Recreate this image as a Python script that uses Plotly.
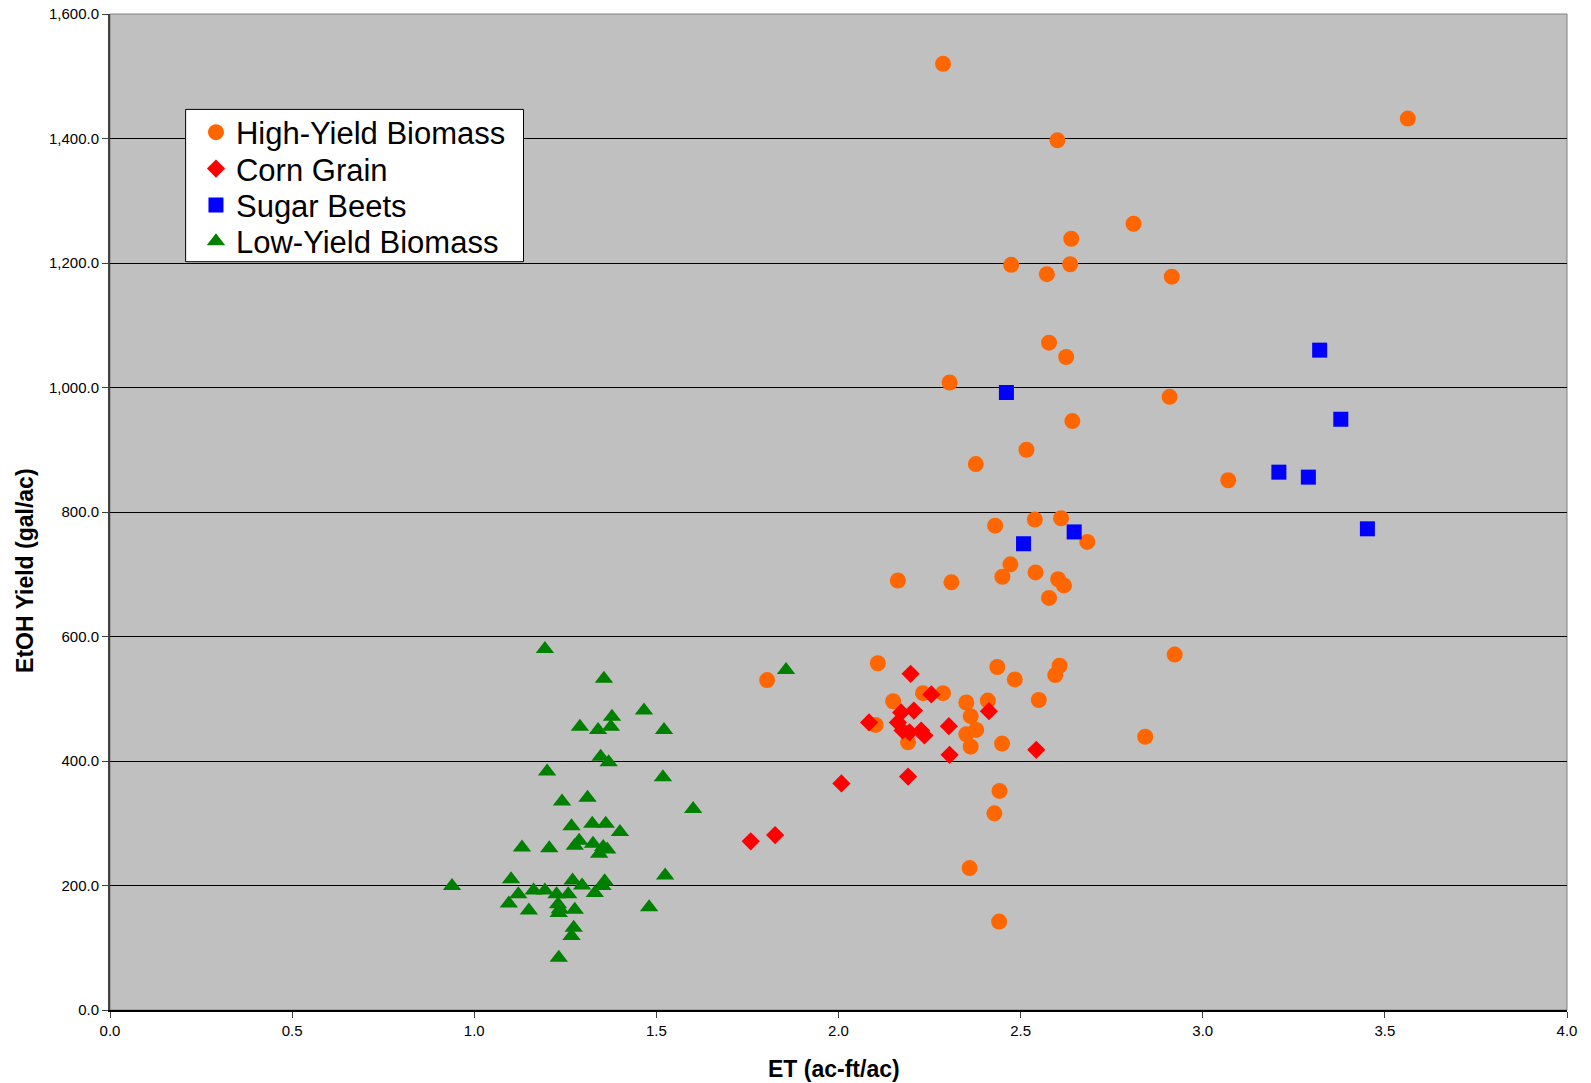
import plotly.graph_objects as go

# High-Yield Biomass (orange circles)
hy_x = [2.287, 2.601, 3.563, 2.810, 2.639, 2.474, 2.572, 2.636, 2.915, 2.578,
        2.625, 2.305, 2.909, 2.642, 2.516, 2.377, 3.070, 2.430, 2.539, 2.611,
        2.683, 2.472, 2.450, 2.541, 2.603, 2.619, 2.578, 2.163, 2.310, 2.923,
        2.108, 1.804, 2.436, 2.607, 2.595, 2.484, 2.150, 2.232, 2.287, 2.351,
        2.410, 2.550, 2.363, 2.102, 2.351, 2.378, 2.191, 2.363, 2.449, 2.842,
        2.442, 2.428, 2.360, 2.441]
hy_y = [1520, 1397, 1432, 1263, 1239, 1197, 1182, 1198, 1178, 1072,
        1049, 1008, 985, 946, 900, 877, 851, 778, 788, 790,
        752, 716, 696, 703, 692, 682, 662, 690, 687, 571,
        557, 530, 551, 553, 538, 531, 496, 509, 509, 494,
        497, 498, 472, 458, 443, 450, 430, 423, 428, 439,
        352, 316, 228, 142]

# Corn Grain (red diamonds)
cg_x = [1.759, 1.826, 2.008, 2.084, 2.191, 2.198, 2.255, 2.207, 2.172, 2.163,
        2.176, 2.195, 2.227, 2.236, 2.303, 2.413, 2.305, 2.543]
cg_y = [271, 281, 364, 462, 375, 540, 507, 481, 478, 462,
        449, 446, 449, 441, 456, 480, 410, 418]

# Sugar Beets (blue squares)
sb_x = [2.461, 3.321, 3.379, 3.209, 3.290, 3.452, 2.647, 2.508]
sb_y = [992, 1060, 949, 864, 856, 773, 768, 749]

# Low-Yield Biomass (green triangles)
ly_x = [1.194, 1.356, 1.466, 1.378, 1.375, 1.290, 1.340, 1.521, 1.347, 1.369,
        1.200, 1.518, 1.601, 1.241, 1.311, 1.267, 1.324, 1.361, 1.400, 1.288,
        1.276, 1.326, 1.354, 1.365, 1.343, 1.131, 1.206, 0.939, 1.101, 1.121,
        1.095, 1.150, 1.163, 1.194, 1.226, 1.258, 1.270, 1.296, 1.331, 1.358,
        1.352, 1.230, 1.235, 1.232, 1.276, 1.273, 1.267, 1.232, 1.480, 1.524,
        1.856]
ly_y = [580, 532, 481, 471, 455, 455, 450, 450, 407, 398,
        383, 374, 323, 335, 341, 295, 299, 299, 286, 272,
        264, 267, 262, 258, 251, 261, 260, 199, 210, 186,
        171, 160, 192, 192, 186, 186, 208, 200, 188, 207,
        199, 170, 162, 156, 161, 132, 119, 84, 165, 216,
        546]

x_ticks = [0.0, 0.5, 1.0, 1.5, 2.0, 2.5, 3.0, 3.5, 4.0]
y_ticks = [0, 200, 400, 600, 800, 1000, 1200, 1400, 1600]

series_names = ["High-Yield Biomass", "Corn Grain", "Sugar Beets", "Low-Yield Biomass"]
legend_rows_y = [0.881, 0.8445, 0.808, 0.7715]

font_family = "Liberation Sans, Arial, sans-serif"

fig = go.Figure()
fig.add_trace(go.Scatter(x=hy_x, y=hy_y, mode="markers", name=series_names[0], legend="legend",
                         marker=dict(symbol="circle", size=16, color="#FF6600", line=dict(width=0))))
fig.add_trace(go.Scatter(x=cg_x, y=cg_y, mode="markers", name=series_names[1], legend="legend2",
                         marker=dict(symbol="diamond", size=14, color="#FF0000", line=dict(width=0))))
fig.add_trace(go.Scatter(x=sb_x, y=sb_y, mode="markers", name=series_names[2], legend="legend3",
                         marker=dict(symbol="square", size=15, color="#0000FF", line=dict(width=0))))
fig.add_trace(go.Scatter(x=ly_x, y=ly_y, mode="markers", name=series_names[3], legend="legend4",
                         marker=dict(symbol="triangle-up", size=16, color="#008000", line=dict(width=0))))

def leg(yc):
    return dict(x=0.059, y=yc, xanchor="left", yanchor="middle",
                bgcolor="rgba(0,0,0,0)", borderwidth=0,
                font=dict(size=31, family=font_family, color="black"),
                itemsizing="trace")

fig.update_layout(
    width=1591, height=1083,
    paper_bgcolor="white",
    plot_bgcolor="#C0C0C0",
    margin=dict(l=110, r=23.5, t=14.2, b=73.4),
    font=dict(family=font_family, color="black"),
    showlegend=True,
    legend=leg(legend_rows_y[0]),
    legend2=leg(legend_rows_y[1]),
    legend3=leg(legend_rows_y[2]),
    legend4=leg(legend_rows_y[3]),
    shapes=[
        dict(type="rect", xref="paper", yref="paper", x0=0, y0=0, x1=1, y1=1,
             line=dict(color="#808080", width=1), layer="below"),
        dict(type="rect", xref="paper", yref="paper", x0=0.0519, y0=0.7513, x1=0.2838, y1=0.9042,
             line=dict(color="black", width=1), fillcolor="white", layer="above"),
    ],
    annotations=[
        dict(text="<b>EtOH Yield (gal/ac)</b>", xref="paper", yref="paper", x=-0.058, y=0.4413,
             xanchor="center", yanchor="middle", textangle=-90, showarrow=False,
             font=dict(size=23, family=font_family, color="black")),
        dict(text="<b>ET (ac-ft/ac)</b>", xref="paper", yref="paper", x=0.4967, y=-0.0593,
             xanchor="center", yanchor="middle", showarrow=False,
             font=dict(size=23, family=font_family, color="black")),
    ],
)

fig.update_xaxes(
    range=[0, 4], tickvals=x_ticks, tickformat=".1f",
    showgrid=False, zeroline=False,
    showline=True, linecolor="black", linewidth=1.5,
    ticks="outside", ticklen=6, tickcolor="#404040",
    tickfont=dict(size=15, family=font_family, color="black"),
    ticklabeloverflow="allow",
    automargin=False,
)
fig.update_yaxes(
    range=[0, 1600], tickvals=y_ticks, tickformat=",.1f",
    showgrid=True, gridcolor="black", gridwidth=1, zeroline=False,
    showline=True, linecolor="#404040", linewidth=2,
    ticks="outside", ticklen=6, tickcolor="#404040",
    tickfont=dict(size=15, family=font_family, color="black"),
    ticklabeloverflow="allow",
    automargin=False,
)

fig.write_html("out.html", config={"displayModeBar": False},
               post_script="document.body.style.margin='0';")
